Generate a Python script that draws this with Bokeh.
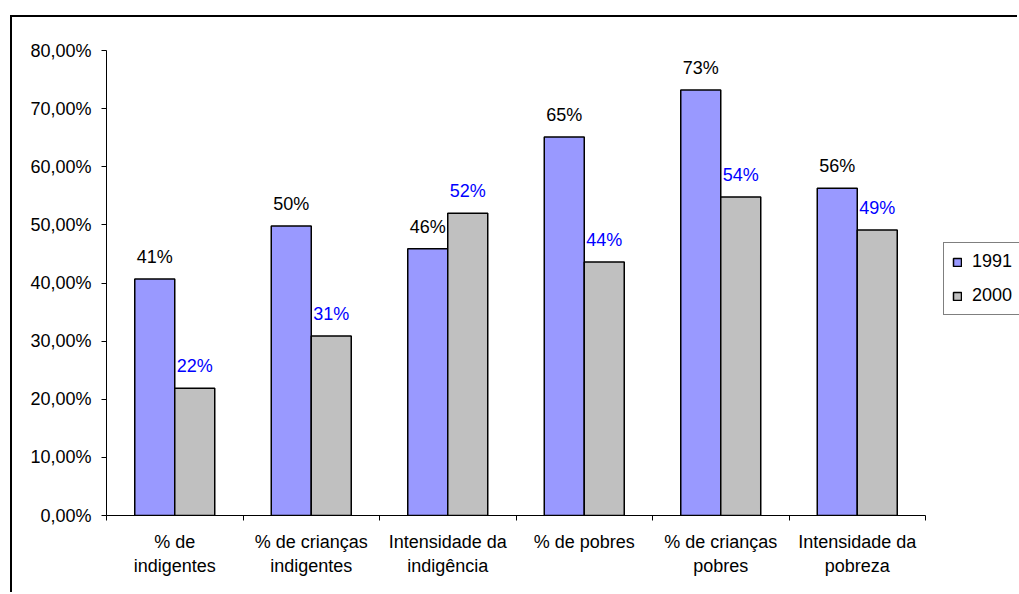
from bokeh.plotting import figure
from bokeh.models import FixedTicker, Legend, LegendItem, Range1d
from bokeh.core.properties import value
from bokeh.embed import file_html
from bokeh.resources import INLINE

# ---- data ----
categories = ["% de\nindigentes", "% de crianças\nindigentes", "Intensidade da\nindigência",
              "% de pobres", "% de crianças\npobres", "Intensidade da\npobreza"]
series = ["1991", "2000"]
values_1991 = [40.7, 49.8, 45.9, 65.1, 73.2, 56.3]
values_2000 = [21.9, 30.9, 52.0, 43.6, 54.8, 49.1]
labels_1991 = ["41%", "50%", "46%", "65%", "73%", "56%"]
labels_2000 = ["22%", "31%", "52%", "44%", "54%", "49%"]
y_ticks = [0, 10, 20, 30, 40, 50, 60, 70, 80]
y_tick_labels = ["0,00%", "10,00%", "20,00%", "30,00%", "40,00%", "50,00%", "60,00%", "70,00%", "80,00%"]

FONT = "Liberation Sans"
FS = "18px"
BAR_W = 0.293

# layout (pixels)
CANVAS_W, CANVAS_H = 1007, 577
BORDER_L, BORDER_T, BORDER_B = 94, 33, 79
AXIS_PX = 819                      # width of the category axis
FRAME_W = CANVAS_W - BORDER_L      # frame extends to right edge (legend area)

n = len(categories)
centers = [i + 0.5 for i in range(n)]
x1991 = [c - BAR_W / 2 for c in centers]
x2000 = [c + BAR_W / 2 for c in centers]
x_end = n * FRAME_W / AXIS_PX

p = figure(width=CANVAS_W, height=CANVAS_H, output_backend="svg", toolbar_location=None,
           x_range=Range1d(0, x_end), y_range=Range1d(0, 80),
           min_border_left=BORDER_L, min_border_right=0, min_border_top=BORDER_T,
           min_border_bottom=BORDER_B)
p.margin = (15, 0, 0, 10)
p.styles = {"border-left": "2px solid black", "border-top": "2px solid black"}
p.outline_line_color = None
p.xgrid.visible = False
p.ygrid.visible = False
p.background_fill_color = "white"
p.border_fill_color = "white"

r1 = p.vbar(x=x1991, top=values_1991, bottom=0, width=BAR_W,
            fill_color="#9999FF", line_color="black", line_width=1.5)
r2 = p.vbar(x=x2000, top=values_2000, bottom=0, width=BAR_W,
            fill_color="#C0C0C0", line_color="black", line_width=1.5)

p.text(x=x1991, y=values_1991, text=labels_1991, text_align="center", text_baseline="middle",
       y_offset=-22, text_font=value(FONT), text_font_size=FS, text_color="black")
p.text(x=x2000, y=values_2000, text=labels_2000, text_align="center", text_baseline="middle",
       y_offset=-22, text_font=value(FONT), text_font_size=FS, text_color="#0000FF")

# y axis
ya = p.yaxis[0]
ya.ticker = FixedTicker(ticks=y_ticks, minor_ticks=[])
ya.major_label_overrides = {t: l for t, l in zip(y_ticks, y_tick_labels)}
ya.major_tick_in = 0
ya.major_tick_out = 5
ya.minor_tick_in = 0
ya.minor_tick_out = 0
ya.axis_line_color = "black"
ya.major_tick_line_color = "black"
ya.major_label_text_font = FONT
ya.major_label_text_font_size = FS
ya.major_label_text_color = "black"
ya.major_label_standoff = 10

# x axis: labels at centers, ticks at boundaries, line limited to the categories
xa = p.xaxis[0]
xa.ticker = FixedTicker(ticks=centers, minor_ticks=list(range(n + 1)))
xa.major_label_overrides = {c: cat for c, cat in zip(centers, categories)}
xa.bounds = (0, n)
xa.major_tick_in = 0
xa.major_tick_out = 0
xa.minor_tick_in = 0
xa.minor_tick_out = 5
xa.minor_tick_line_color = "black"
xa.axis_line_color = "black"
xa.major_label_text_font = FONT
xa.major_label_text_font_size = FS
xa.major_label_text_color = "black"
xa.major_label_standoff = 11

legend = Legend(items=[LegendItem(label=series[0], renderers=[r1]),
                       LegendItem(label=series[1], renderers=[r2])],
                location=(837, 200))
legend.border_line_color = "black"
legend.border_line_width = 1
legend.background_fill_color = "white"
legend.background_fill_alpha = 1
legend.padding = 8
legend.margin = 0
legend.spacing = 13
legend.glyph_width = 10
legend.glyph_height = 10
legend.label_standoff = 10
legend.label_width = 80
legend.label_height = 20
legend.label_text_font = FONT
legend.label_text_font_size = FS
legend.label_text_color = "black"
p.add_layout(legend, "center")

open("out.html", "w").write(file_html(p, INLINE))
